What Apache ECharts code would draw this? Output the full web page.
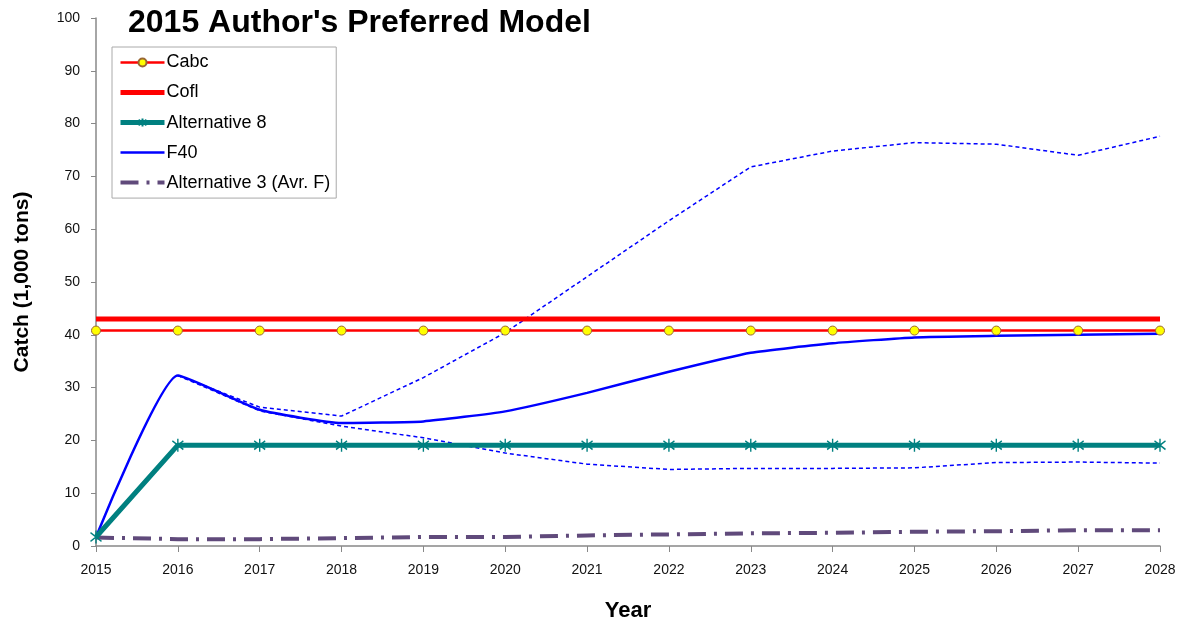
<!DOCTYPE html>
<html>
<head>
    <title>2015 Author's Preferred Model</title>
    <script src="https://cdn.jsdelivr.net/npm/echarts@6/dist/echarts.min.js"></script>
</head>
<body style="margin:0;background:#fff;">

<div id="catchChart" style="width: 1191px;height:626px;"></div>

<script type="text/javascript">
    var years = ['2015', '2016', '2017', '2018', '2019', '2020', '2021', '2022', '2023', '2024', '2025', '2026', '2027', '2028'];
    var cabc  = [40.8, 40.8, 40.8, 40.8, 40.8, 40.8, 40.8, 40.8, 40.8, 40.8, 40.8, 40.8, 40.8, 40.8];
    var cofl  = [43.0, 43.0, 43.0, 43.0, 43.0, 43.0, 43.0, 43.0, 43.0, 43.0, 43.0, 43.0, 43.0, 43.0];
    var alt8  = [1.7, 19.1, 19.1, 19.1, 19.1, 19.1, 19.1, 19.1, 19.1, 19.1, 19.1, 19.1, 19.1, 19.1];
    var f40   = [1.7, 32.3, 25.8, 23.3, 23.6, 25.5, 29.0, 33.0, 36.6, 38.4, 39.5, 39.8, 40.0, 40.2];
    var f40Hi = ['-', 32.3, 26.3, 24.6, 31.9, 40.4, 51.0, 61.6, 71.8, 74.8, 76.4, 76.1, 74.0, 77.6];
    var f40Lo = ['-', 32.3, 25.6, 22.7, 20.5, 17.6, 15.5, 14.5, 14.7, 14.7, 14.8, 15.8, 15.9, 15.7];
    var alt3  = [1.6, 1.3, 1.3, 1.5, 1.7, 1.7, 2.0, 2.2, 2.4, 2.5, 2.7, 2.8, 3.0, 3.0];

    var font = 'Liberation Sans, Arial, sans-serif';
    var asterisk = 'path://M0,-6 L0,6 M-5,-4 L5,4 M-5,4 L5,-4';
    var noSymbol = {opacity: 0};

    var chart = echarts.init(document.getElementById('catchChart'));
    chart.setOption({
        animation: false,
        title: {
            text: "2015 Author's Preferred Model",
            left: 123,
            top: -9,
            textStyle: {fontFamily: font, fontSize: 32, fontWeight: 'bold', color: '#000'}
        },
        legend: {
            orient: 'vertical',
            left: 112,
            top: 47,
            padding: [0, 6, 0, 6],
            itemWidth: 44,
            itemHeight: 10,
            itemGap: -1,
            borderColor: '#aaa',
            borderWidth: 1,
            lineStyle: {width: 'inherit'},
            data: [
                {name: 'Cabc'},
                {name: 'Cofl', itemStyle: noSymbol},
                {name: 'Alternative 8'},
                {name: 'F40', itemStyle: noSymbol},
                {name: 'Alternative 3 (Avr. F)', itemStyle: noSymbol}
            ],
            textStyle: {fontFamily: font, fontSize: 18, color: '#000', padding: [0, 0, 0, -3]}
        },
        grid: {left: 96, right: 31, top: 18, bottom: 80, outerBoundsMode: 'none'},
        xAxis: {
            type: 'category',
            data: years,
            boundaryGap: false,
            name: 'Year',
            nameLocation: 'middle',
            nameGap: 46,
            nameTextStyle: {fontFamily: font, fontSize: 22, fontWeight: 'bold', color: '#000'},
            axisLine: {lineStyle: {color: '#888', width: 1.5}},
            axisTick: {alignWithLabel: true, length: 6, lineStyle: {color: '#888'}},
            axisLabel: {fontFamily: font, fontSize: 14, color: '#111', margin: 12}
        },
        yAxis: {
            type: 'value',
            min: 0,
            max: 100,
            interval: 10,
            name: 'Catch (1,000 tons)',
            nameLocation: 'middle',
            nameGap: 56,
            nameTextStyle: {fontFamily: font, fontSize: 21, fontWeight: 'bold', color: '#000'},
            splitLine: {show: false},
            axisLine: {show: true, lineStyle: {color: '#888', width: 1.5}},
            axisTick: {show: true, length: 5, lineStyle: {color: '#888'}},
            axisLabel: {fontFamily: font, fontSize: 14, color: '#111', margin: 16}
        },
        series: [
            {
                name: 'F40 upper',
                type: 'line',
                data: f40Hi,
                symbol: 'none',
                lineStyle: {color: '#0000ff', width: 1.5, type: [4, 3]},
                itemStyle: {color: '#0000ff'}
            },
            {
                name: 'F40 lower',
                type: 'line',
                data: f40Lo,
                symbol: 'none',
                lineStyle: {color: '#0000ff', width: 1.5, type: [4, 3]},
                itemStyle: {color: '#0000ff'}
            },
            {
                name: 'Alternative 3 (Avr. F)',
                type: 'line',
                data: alt3,
                symbol: 'none',
                lineStyle: {color: '#604a7b', width: 4, type: [18, 8, 3, 8]},
                itemStyle: {color: '#604a7b'}
            },
            {
                name: 'F40',
                type: 'line',
                data: f40,
                symbol: 'none',
                smooth: 0.15,
                lineStyle: {color: '#0000ff', width: 2.5},
                itemStyle: {color: '#0000ff'}
            },
            {
                name: 'Alternative 8',
                type: 'line',
                data: alt8,
                symbol: asterisk,
                symbolSize: [11, 13],
                lineStyle: {color: '#008080', width: 5},
                itemStyle: {color: '#008080', borderColor: '#008080', borderWidth: 1.5}
            },
            {
                name: 'Cofl',
                type: 'line',
                data: cofl,
                symbol: 'none',
                lineStyle: {color: '#ff0000', width: 5},
                itemStyle: {color: '#ff0000'}
            },
            {
                name: 'Cabc',
                type: 'line',
                data: cabc,
                symbol: 'circle',
                symbolSize: 9,
                lineStyle: {color: '#ff0000', width: 2.5},
                itemStyle: {color: '#ffff00', borderColor: '#996633', borderWidth: 1}
            }
        ]
    });
</script>
</body>
</html>
